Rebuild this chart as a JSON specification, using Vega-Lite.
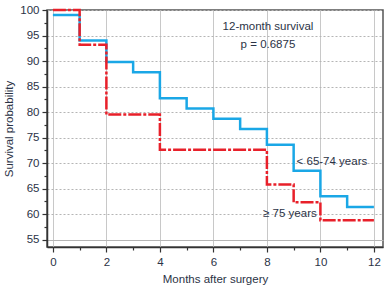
{
  "$schema": "https://vega.github.io/schema/vega-lite/v6.json",
  "autosize": "none",
  "width": 336,
  "height": 237,
  "padding": {"left": 47, "top": 10, "right": 8, "bottom": 43},
  "background": "white",
  "config": {
    "font": "Liberation Sans",
    "view": {"stroke": "#555", "strokeWidth": 1.5},
    "axis": {
      "labelFont": "Liberation Sans",
      "titleFont": "Liberation Sans",
      "labelFontSize": 11.5,
      "titleFontSize": 11.5,
      "titleFontWeight": "normal",
      "labelColor": "#2b3346",
      "titleColor": "#2b3346",
      "domainColor": "#333",
      "domainWidth": 1.5,
      "tickColor": "#333",
      "tickWidth": 1.2,
      "labelOverlap": false
    }
  },
  "datasets": {
    "curves": [
      {"group": "< 65-74 years", "month": 0, "surv": 99},
      {"group": "< 65-74 years", "month": 1, "surv": 94},
      {"group": "< 65-74 years", "month": 2, "surv": 89.8},
      {"group": "< 65-74 years", "month": 3, "surv": 87.8},
      {"group": "< 65-74 years", "month": 4, "surv": 82.7},
      {"group": "< 65-74 years", "month": 5, "surv": 80.7},
      {"group": "< 65-74 years", "month": 6, "surv": 78.7},
      {"group": "< 65-74 years", "month": 7, "surv": 76.7},
      {"group": "< 65-74 years", "month": 8, "surv": 73.6},
      {"group": "< 65-74 years", "month": 9, "surv": 68.5},
      {"group": "< 65-74 years", "month": 10, "surv": 63.5},
      {"group": "< 65-74 years", "month": 11, "surv": 61.4},
      {"group": "< 65-74 years", "month": 12, "surv": 61.4},
      {"group": "≥ 75 years", "month": 0, "surv": 100},
      {"group": "≥ 75 years", "month": 1, "surv": 93.2},
      {"group": "≥ 75 years", "month": 2, "surv": 79.5},
      {"group": "≥ 75 years", "month": 4, "surv": 72.6},
      {"group": "≥ 75 years", "month": 8, "surv": 65.8},
      {"group": "≥ 75 years", "month": 9, "surv": 62.3},
      {"group": "≥ 75 years", "month": 10, "surv": 58.8},
      {"group": "≥ 75 years", "month": 12, "surv": 58.8}
    ],
    "notes": [
      {"label": "12-month survival", "month": 8.04, "surv": 96.7},
      {"label": "p = 0.6875", "month": 8.04, "surv": 93.1},
      {"label": "< 65-74 years", "month": 10.43, "surv": 70.2},
      {"label": "≥ 75 years", "month": 8.86, "surv": 60.0}
    ]
  },
  "layer": [
    {
      "data": {"name": "curves"},
      "mark": {"type": "line", "interpolate": "step-after", "strokeWidth": 2.5},
      "encoding": {
        "x": {
          "field": "month", "type": "quantitative",
          "scale": {"domain": [-0.22, 12.34], "nice": false, "zero": false},
          "axis": {
            "title": "Months after surgery",
            "values": [0,1,2,3,4,5,6,7,8,9,10,11,12],
            "tickCount": 50,
            "format": "d",
            "labelExpr": "datum.value % 2 === 0 ? datum.label : ''",
            "grid": true,
            "gridColor": "#c8c8c8",
            "gridWidth": 1,
            "gridOpacity": {"condition": {"test": "datum.value % 2 === 0", "value": 1}, "value": 0},
            "tickSize": {"condition": {"test": "datum.value % 2 === 0", "value": 5}, "value": 3},
            "labelPadding": 4,
            "titlePadding": 6
          }
        },
        "y": {
          "field": "surv", "type": "quantitative",
          "scale": {"domain": [53.55, 100], "nice": false, "zero": false},
          "axis": {
            "title": "Survival probability",
            "values": [55,57.5,60,62.5,65,67.5,70,72.5,75,77.5,80,82.5,85,87.5,90,92.5,95,97.5,100],
            "tickCount": 50,
            "format": "d",
            "labelExpr": "datum.value % 5 === 0 ? datum.label : ''",
            "grid": true,
            "gridColor": "#b5b5b5",
            "gridWidth": 1,
            "gridDash": {"condition": {"test": "datum.value === 55", "value": []}, "value": [2, 2]},
            "gridOpacity": {"condition": {"test": "datum.value % 5 === 0", "value": 1}, "value": 0},
            "tickSize": {"condition": {"test": "datum.value % 5 === 0", "value": 5}, "value": 3},
            "labelPadding": 3,
            "titlePadding": 5
          }
        },
        "color": {
          "field": "group", "type": "nominal",
          "scale": {"domain": ["< 65-74 years", "≥ 75 years"], "range": ["#1aa7e6", "#e8202a"]},
          "legend": null
        },
        "strokeDash": {
          "field": "group", "type": "nominal",
          "scale": {"domain": ["< 65-74 years", "≥ 75 years"], "range": [[1, 0], [13, 2, 3, 2]]},
          "legend": null
        }
      }
    },
    {
      "data": {"name": "notes"},
      "mark": {"type": "text", "fontSize": 11.5, "color": "#2b3346", "font": "Liberation Sans"},
      "encoding": {
        "x": {"field": "month", "type": "quantitative"},
        "y": {"field": "surv", "type": "quantitative"},
        "text": {"field": "label"}
      }
    }
  ]
}
